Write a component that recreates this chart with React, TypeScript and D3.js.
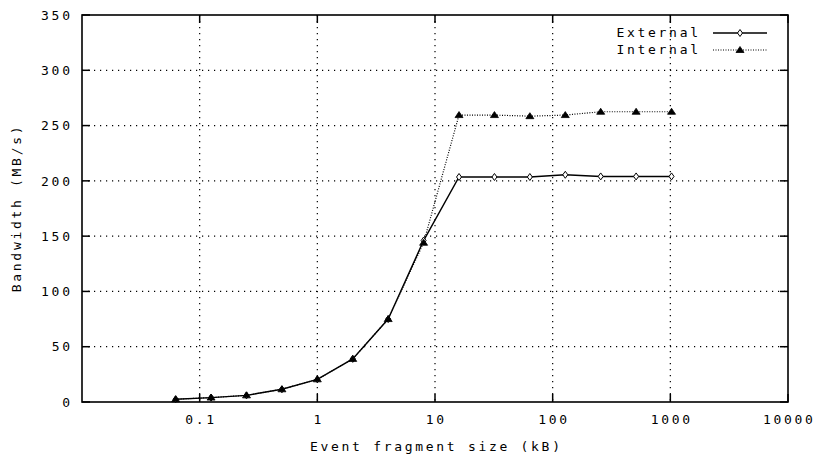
import React from "react";
import * as d3 from "d3";

const sizes = [0.0625, 0.125, 0.25, 0.5, 1, 2, 4, 8, 16, 32, 64, 128, 256, 512, 1024];
const externalBw = [2.5, 4, 6, 11.5, 20.5, 39, 75, 146, 203.5, 203.5, 203.5, 205.5, 204, 204, 204];
const internalBw = [2.5, 4, 6, 11.5, 20.5, 39, 75, 144, 259.5, 259.5, 258.5, 259.5, 262.5, 262.5, 262.5];
const xTicks = [0.1, 1, 10, 100, 1000, 10000];
const xTickLabels = ["0.1", "1", "10", "100", "1000", "10000"];
const yTicks = [0, 50, 100, 150, 200, 250, 300, 350];
const seriesNames = ["External", "Internal"];

const W = 815, H = 456;
const L = 82, R = 788, T = 15, B = 402;
const FONT = "'DejaVu Sans Mono', monospace";
const LS = 2.7;

export default function App() {
  const x = d3.scaleLog().domain([0.01, 10000]).range([L, R]);
  const y = d3.scaleLinear().domain([0, 350]).range([B, T]);
  const line = d3.line<number>().x((_, i) => x(sizes[i])).y((d) => y(d));
  const diamond = (cx: number, cy: number) =>
    `M${cx},${cy - 3.5}L${cx + 2.5},${cy}L${cx},${cy + 3.5}L${cx - 2.5},${cy}Z`;
  const tri = (cx: number, cy: number) =>
    `M${cx},${cy - 3.5}L${cx + 4},${cy + 2.5}L${cx - 4},${cy + 2.5}Z`;
  const tick = 8;
  const txt = { fontFamily: FONT, fontSize: 13, letterSpacing: LS, fill: "#000" } as any;

  return (
    <svg width={W} height={H} style={{ position: "absolute", left: 0, top: 0, background: "#fff" }}>
      {/* grid */}
      {yTicks.filter((t) => t > 0 && t < 350).map((t) => (
        <line key={"gy" + t} x1={L} x2={R} y1={y(t)} y2={y(t)} stroke="#000" strokeWidth={1.2} strokeDasharray="1.2,4.8" />
      ))}
      {xTicks.filter((t) => t < 10000).map((t) => (
        <line key={"gx" + t} x1={x(t)} x2={x(t)} y1={T} y2={B} stroke="#000" strokeWidth={1.2} strokeDasharray="1.2,4.8" />
      ))}
      {/* ticks */}
      {yTicks.map((t) => (
        <g key={"ty" + t}>
          <line x1={L} x2={L + tick} y1={y(t)} y2={y(t)} stroke="#000" strokeWidth={1.5} />
          <line x1={R} x2={R - tick} y1={y(t)} y2={y(t)} stroke="#000" strokeWidth={1.5} />
          <text x={70 + LS} y={y(t)} dy="0.36em" textAnchor="end" style={txt}>{t}</text>
        </g>
      ))}
      {xTicks.map((t, i) => (
        <g key={"tx" + t}>
          <line x1={x(t)} x2={x(t)} y1={B} y2={B - tick} stroke="#000" strokeWidth={1.5} />
          <line x1={x(t)} x2={x(t)} y1={T} y2={T + tick} stroke="#000" strokeWidth={1.5} />
          <text x={x(t) + LS / 2} y={424} textAnchor="middle" style={txt}>{xTickLabels[i]}</text>
        </g>
      ))}
      {/* border */}
      <rect x={L} y={T} width={R - L} height={B - T} fill="none" stroke="#000" strokeWidth={1.6} />
      {/* series */}
      <path d={line(externalBw) || ""} fill="none" stroke="#000" strokeWidth={1.4} />
      <path d={line(internalBw) || ""} fill="none" stroke="#000" strokeWidth={1.2} strokeDasharray="1,1.5" />
      {externalBw.map((v, i) => (
        <path key={"e" + i} d={diamond(x(sizes[i]), y(v))} fill="#fff" stroke="#000" strokeWidth={1} />
      ))}
      {internalBw.map((v, i) => (
        <path key={"n" + i} d={tri(x(sizes[i]), y(v))} fill="#000" stroke="#000" strokeWidth={0.8} />
      ))}
      {/* legend */}
      <text x={698 + LS} y={37} textAnchor="end" style={txt}>{seriesNames[0]}</text>
      <line x1={713} x2={767} y1={33} y2={33} stroke="#000" strokeWidth={1.4} />
      <path d={diamond(740, 33)} fill="#fff" stroke="#000" strokeWidth={1} />
      <text x={698 + LS} y={54} textAnchor="end" style={txt}>{seriesNames[1]}</text>
      <line x1={713} x2={767} y1={50} y2={50} stroke="#000" strokeWidth={1.2} strokeDasharray="1,1.5" />
      <path d={tri(740, 50)} fill="#000" stroke="#000" strokeWidth={0.8} />
      {/* axis titles */}
      <text x={435 + LS / 2} y={451} textAnchor="middle" style={txt}>Event fragment size (kB)</text>
      <text transform="translate(21,208) rotate(-90)" textAnchor="middle" style={txt}>Bandwidth (MB/s)</text>
    </svg>
  );
}
